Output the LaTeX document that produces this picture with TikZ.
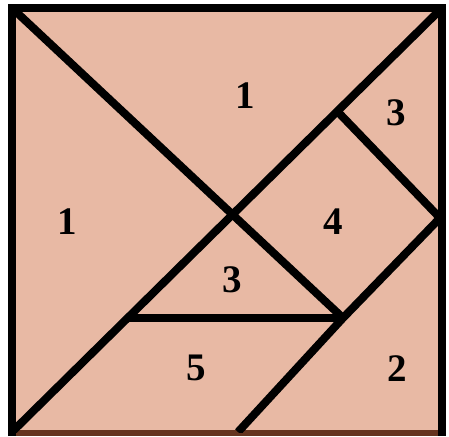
\documentclass[tikz,border=0pt]{standalone}
\usepackage{fontspec}
\setmainfont{Liberation Serif}
\usepackage{tikz}

\definecolor{tilefill}{RGB}{232,185,164}
\definecolor{tilebase}{RGB}{101,52,31}

\begin{document}
\begin{tikzpicture}[x=1pt, y=-1pt, every node/.style={font=\fontsize{39}{39}\selectfont\bfseries, inner sep=0pt}, cut/.style={line width=8pt}]
	\useasboundingbox (0,0) rectangle (449,436);
	\coordinate (tl) at (12,8);
	\coordinate (tr) at (442,8);
	\coordinate (bl) at (12,432);
	\coordinate (br) at (442,432);
	\coordinate (mid) at (233,215);
	\coordinate (kink) at (338,112);
	\coordinate (east) at (440,218);
	\coordinate (low) at (343,318);
	\coordinate (west) at (128,318);
	\coordinate (foot) at (238,432);
	\fill[tilefill] (12,8) rectangle (442,436);
	\fill[tilebase] (12,430) rectangle (442,436);
	\begin{scope}
		\clip (tl) rectangle (br);
		\draw[cut] (tl) -- (mid) -- (low);
		\draw[cut] (bl) -- (tr);
		\draw[cut] (kink) -- (east) -- (low) -- (foot);
		\draw[cut] (west) -- (low);
	\end{scope}
	\draw[cut, line join=miter] (12,436) -- (tl) -- (tr) -- (442,436);
	\node (big1) at (245,96) {1};
	\node (big2) at (67,222) {1};
	\node (tri3) at (396,113) {3};
	\node (sq4) at (333,222) {4};
	\node (tri3b) at (232,280) {3};
	\node (par5) at (196,368) {5};
	\node (mid2) at (397,369) {2};
\end{tikzpicture}
\end{document}
